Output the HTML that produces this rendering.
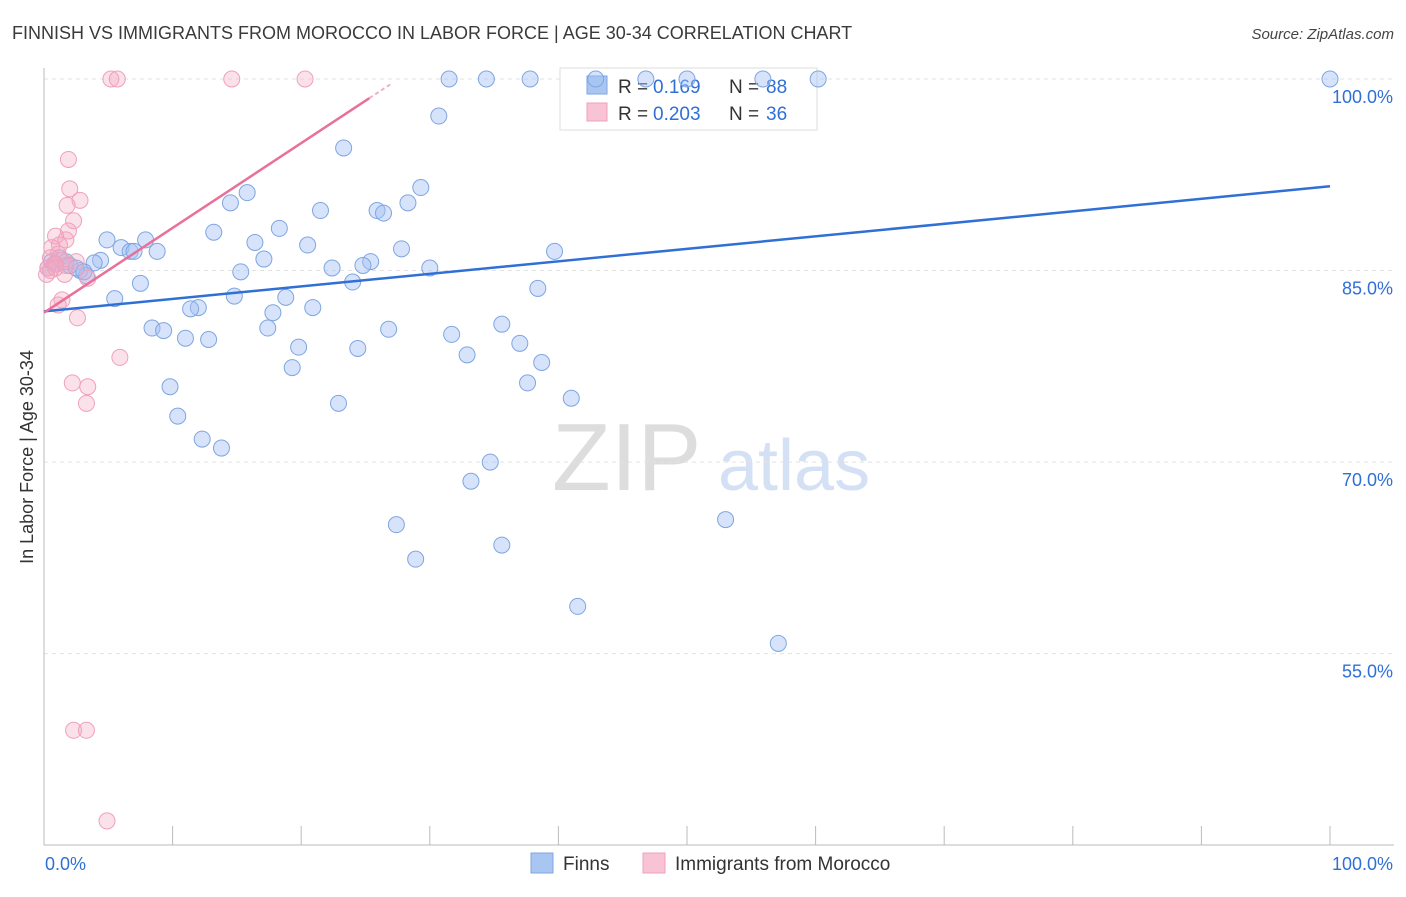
<!DOCTYPE html>
<html><head><meta charset="utf-8"><style>
body{margin:0;background:#fff;font-family:"Liberation Sans",sans-serif}
svg text{font-family:"Liberation Sans",sans-serif}
</style></head><body>
<svg id="chart" width="1406" height="892" xmlns="http://www.w3.org/2000/svg">
<text x="12" y="39" font-size="18" fill="#3a3a3a">FINNISH VS IMMIGRANTS FROM MOROCCO IN LABOR FORCE | AGE 30-34 CORRELATION CHART</text>
<text x="1394" y="39" font-size="15" fill="#444" text-anchor="end" font-style="italic">Source: ZipAtlas.com</text>
<g><text x="552" y="490" font-size="96" fill="#ddd" font-family="Liberation Serif">ZIP</text><text x="718" y="490" font-size="72" fill="#d4e1f5">atlas</text></g>
<text transform="translate(33,457) rotate(-90)" font-size="18" fill="#333" text-anchor="middle">In Labor Force | Age 30-34</text>
<g id="grid"></g><g id="axes"></g>
<g>
<rect x="560" y="68" width="257" height="62" fill="#fff" stroke="#ddd"/>
<rect x="587" y="76" width="20" height="18" fill="#a9c6f3" stroke="#7ea6e0"/>
<text x="618" y="93" font-size="19" fill="#333">R =</text><text x="653" y="93" font-size="19" fill="#2f6fd6">0.169</text>
<text x="729" y="93" font-size="19" fill="#333">N =</text><text x="766" y="93" font-size="19" fill="#2f6fd6">88</text>
<rect x="587" y="103" width="20" height="18" fill="#f8c4d5" stroke="#f0a0bb"/>
<text x="618" y="120" font-size="19" fill="#333">R =</text><text x="653" y="120" font-size="19" fill="#2f6fd6">0.203</text>
<text x="729" y="120" font-size="19" fill="#333">N =</text><text x="766" y="120" font-size="19" fill="#2f6fd6">36</text>
</g>
<g id="marks"></g>
<g>
<rect x="531" y="853" width="22" height="20" fill="#a9c6f3" stroke="#7ea6e0"/>
<text x="563" y="870" font-size="19" fill="#333">Finns</text>
<rect x="643" y="853" width="22" height="20" fill="#f8c4d5" stroke="#f0a0bb"/>
<text x="675" y="870" font-size="19" fill="#333">Immigrants from Morocco</text>
</g>
</svg>
<script>
const yTicks=[100,85,70,55];
const yTickLabels=["100.0%","85.0%","70.0%","55.0%"];
const xTicks=[0,10,20,30,40,50,60,70,80,90,100];
const finnsX=[42.9,46.8,50.0,55.9,60.2,31.5,34.4,37.8,100,30.7,23.3,29.3,15.8,14.5,28.3,21.5,25.9,26.4,13.2,18.3,4.9,7.9,16.4,20.5,6.0,6.7,8.8,7.0,27.8,39.7,4.4,3.9,17.1,25.4,24.8,22.4,30.0,15.3,2.8,3.3,7.5,24.0,38.4,14.8,18.8,5.5,12.0,11.4,20.9,17.8,8.4,9.3,17.4,26.8,35.6,31.7,11.0,12.8,37.0,19.8,24.4,32.9,38.7,19.3,37.6,9.8,41.0,22.9,10.4,12.3,13.8,34.7,33.2,53.0,27.4,35.6,28.9,41.5,57.1,0.3,0.6,0.9,1.2,1.7,2.0,2.5,3.1];
const finnsY=[100,100,100,100,100,100,100,100,100,97.1,94.6,91.5,91.1,90.3,90.3,89.7,89.7,89.5,88.0,88.3,87.4,87.4,87.2,87.0,86.8,86.5,86.5,86.5,86.7,86.5,85.8,85.6,85.9,85.7,85.4,85.2,85.2,84.9,85.0,84.6,84.0,84.1,83.6,83.0,82.9,82.8,82.1,82.0,82.1,81.7,80.5,80.3,80.5,80.4,80.8,80.0,79.7,79.6,79.3,79.0,78.9,78.4,77.8,77.4,76.2,75.9,75.0,74.6,73.6,71.8,71.1,70.0,68.5,65.5,65.1,63.5,62.4,58.7,55.8,85.2,85.7,85.5,86.0,85.7,85.4,85.2,84.9];
const morX=[5.2,5.7,14.6,20.3,1.9,2.0,2.8,1.8,2.3,1.9,0.9,1.7,1.2,0.6,1.1,0.5,1.4,0.8,0.3,2.5,1.6,3.4,1.4,1.1,2.6,5.9,2.2,3.4,3.3,2.3,3.3,4.9,0.5,0.9,1.7,0.2];
const morY=[100,100,100,100,93.7,91.4,90.5,90.1,88.9,88.1,87.7,87.4,87.0,86.8,86.3,86.0,85.8,85.5,85.2,85.7,84.7,84.4,82.7,82.3,81.3,78.2,76.2,75.9,74.6,49.0,49.0,41.9,85.0,85.2,85.4,84.7];
const finnsTrend=[81.8,91.6];
const morTrend=[81.7,0.664];
const NS="http://www.w3.org/2000/svg";
const X=v=>44+v*12.86, Y=v=>79+(100-v)*12.77;
function mk(t,a,p){const e=document.createElementNS(NS,t);for(const k in a)e.setAttribute(k,a[k]);document.getElementById(p).appendChild(e);return e;}
yTicks.forEach((t,i)=>{
 const l=mk('line',{x1:44,x2:1394,y1:Y(t),y2:Y(t),stroke:'#e2e2e2','stroke-dasharray':'4,4'},'grid');
 
 
 const tx=mk('text',{x:1393,y:Y(t)+24,'font-size':18,fill:'#2f6fd6','text-anchor':'end'},'axes');tx.textContent=yTickLabels[i];
 
 
});
const ax=mk('path',{d:`M44 68V845H1394`,stroke:'#bbb',fill:'none'},'axes');


xTicks.forEach(t=>{const l=mk('line',{x1:X(t),x2:X(t),y1:826,y2:845,stroke:'#bbb'},'axes');
 
 });
[[0,'start',45,'0.0%'],[100,'end',1393,'100.0%']].forEach(a=>{const t=mk('text',{x:a[2],y:870,'font-size':18,fill:'#2f6fd6','text-anchor':a[1]},'axes');t.textContent=a[3];
 
 });
finnsX.forEach((v,i)=>{const c=mk('circle',{cx:X(v),cy:Y(finnsY[i]),r:8,fill:'rgba(164,194,244,0.45)',stroke:'#7ea6e0','stroke-width':1},'marks');
 
 });
morX.forEach((v,i)=>{const c=mk('circle',{cx:X(v),cy:Y(morY[i]),r:8,fill:'rgba(244,170,195,0.35)',stroke:'#f0a0bb','stroke-width':1},'marks');
 
 });
const bl=mk('line',{x1:X(0),y1:Y(finnsTrend[0]),x2:X(100),y2:Y(finnsTrend[1]),stroke:'#2f6fd6','stroke-width':2.5},'marks');


const pl=mk('line',{x1:X(0),y1:Y(morTrend[0]),x2:X(25.3),y2:Y(morTrend[0]+morTrend[1]*25.3),stroke:'#e8709a','stroke-width':2.5},'marks');


const pd=mk('line',{x1:X(25.3),y1:Y(morTrend[0]+morTrend[1]*25.3),x2:X(27),y2:Y(morTrend[0]+morTrend[1]*27),stroke:'#f0b0c5','stroke-width':2,'stroke-dasharray':'4,3'},'marks');


</script>
</body></html>
